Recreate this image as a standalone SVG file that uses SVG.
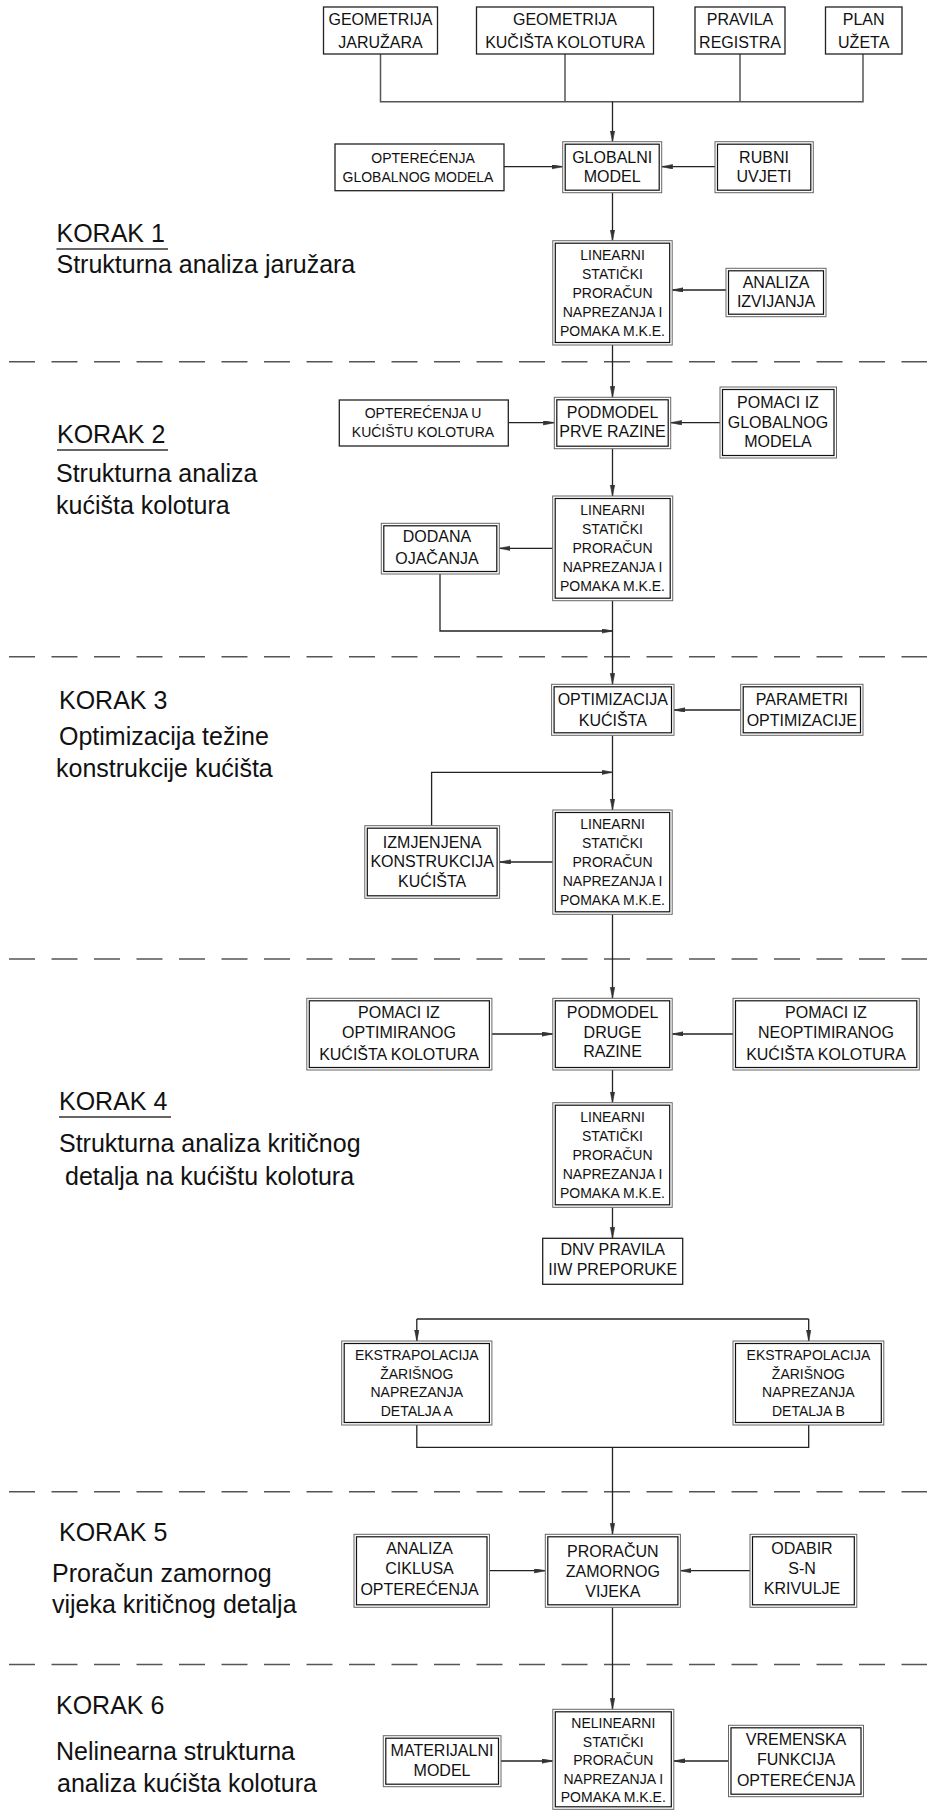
<svg xmlns="http://www.w3.org/2000/svg" width="927" height="1811" viewBox="0 0 927 1811">
<style>
.s{fill:#fff;stroke:#222;stroke-width:1.3}
.o{fill:#fff;stroke:#666;stroke-width:1}
.i{fill:none;stroke:#111;stroke-width:1.2}
text{font-family:"Liberation Sans",Arial,sans-serif;fill:#111}
.t14{font-size:14px;text-anchor:middle}
.t16{font-size:16px;text-anchor:middle}
.k{font-size:25px}
.c{stroke:#222;stroke-width:1.3;fill:none}
.g{stroke:#555;stroke-width:1.5;fill:none}
.d{stroke:#555;stroke-width:1.5;stroke-dasharray:26 16.5;fill:none}
.u{stroke:#333;stroke-width:1.3}
</style>
<defs>
<marker id="a" markerUnits="userSpaceOnUse" markerWidth="12" markerHeight="6" refX="11" refY="2.2" orient="auto">
<path d="M0,0 L11,2.2 L0,4.4 z" fill="#333" stroke="#333" stroke-width="0.6"/>
</marker>
</defs>

<g id="separators">
<line class="d" x1="9" y1="361.7" x2="927" y2="361.7"/>
<line class="d" x1="9" y1="656.7" x2="927" y2="656.7"/>
<line class="d" x1="9" y1="959" x2="927" y2="959"/>
<line class="d" x1="9" y1="1491.7" x2="927" y2="1491.7"/>
<line class="d" x1="9" y1="1664.5" x2="927" y2="1664.5"/>
</g>

<g id="steps">
<text class="k" x="56.5" y="242">KORAK 1</text>
<line class="u" x1="56.5" y1="249" x2="168" y2="249"/>
<text class="k" x="56.5" y="273">Strukturna analiza jaružara</text>
<text class="k" x="57" y="443">KORAK 2</text>
<line class="u" x1="57" y1="450" x2="168" y2="450"/>
<text class="k" x="56" y="482">Strukturna analiza</text>
<text class="k" x="56" y="514">kućišta kolotura</text>
<text class="k" x="59" y="709">KORAK 3</text>
<text class="k" x="59" y="745">Optimizacija težine</text>
<text class="k" x="56" y="777">konstrukcije kućišta</text>
<text class="k" x="59" y="1110">KORAK 4</text>
<line class="u" x1="59" y1="1117" x2="171" y2="1117"/>
<text class="k" x="59" y="1152">Strukturna analiza kritičnog</text>
<text class="k" x="65" y="1185">detalja na kućištu kolotura</text>
<text class="k" x="59" y="1541">KORAK 5</text>
<text class="k" x="52" y="1582">Proračun zamornog</text>
<text class="k" x="52" y="1613">vijeka kritičnog detalja</text>
<text class="k" x="56" y="1714">KORAK 6</text>
<text class="k" x="56" y="1760">Nelinearna strukturna</text>
<text class="k" x="57" y="1792">analiza kućišta kolotura</text>
</g>

<g id="connectors">
<polyline class="g" points="380.5,54 380.5,101.7 863,101.7 863,54"/>
<line class="g" x1="565" y1="54" x2="565" y2="101.7"/>
<line class="g" x1="740" y1="54" x2="740" y2="101.7"/>
<line class="c" x1="612.5" y1="101.7" x2="612.5" y2="141.7" marker-end="url(#a)"/>
<line class="c" x1="504" y1="166.7" x2="562.7" y2="166.7" marker-end="url(#a)"/>
<line class="c" x1="715" y1="166.7" x2="661.7" y2="166.7" marker-end="url(#a)"/>
<line class="c" x1="612.5" y1="192.7" x2="612.5" y2="240.7" marker-end="url(#a)"/>
<line class="c" x1="726" y1="290" x2="672.2" y2="290" marker-end="url(#a)"/>
<line class="c" x1="612.5" y1="345" x2="612.5" y2="397.3" marker-end="url(#a)"/>
<line class="c" x1="508.3" y1="422.7" x2="554.3" y2="422.7" marker-end="url(#a)"/>
<line class="c" x1="720" y1="422.7" x2="670.7" y2="422.7" marker-end="url(#a)"/>
<line class="c" x1="612.5" y1="448.7" x2="612.5" y2="496" marker-end="url(#a)"/>
<line class="c" x1="552.7" y1="548.3" x2="499.3" y2="548.3" marker-end="url(#a)"/>
<polyline class="c" points="440,574 440,631 612.5,631" marker-end="url(#a)"/>
<line class="c" x1="612.5" y1="600.7" x2="612.5" y2="684.3" marker-end="url(#a)"/>
<line class="c" x1="740.7" y1="710" x2="674" y2="710" marker-end="url(#a)" stroke-width="1.8"/>
<line class="c" x1="612.5" y1="735.3" x2="612.5" y2="810" marker-end="url(#a)"/>
<polyline class="c" points="431.6,825.7 431.6,772.3 612.5,772.3" marker-end="url(#a)"/>
<line class="c" x1="552.8" y1="862" x2="499.6" y2="862" marker-end="url(#a)" stroke-width="1.8"/>
<line class="c" x1="612.5" y1="914.3" x2="612.5" y2="998.3" marker-end="url(#a)"/>
<line class="c" x1="491.9" y1="1034" x2="552.8" y2="1034" marker-end="url(#a)"/>
<line class="c" x1="733" y1="1034" x2="672.2" y2="1034" marker-end="url(#a)"/>
<line class="c" x1="612.5" y1="1070" x2="612.5" y2="1102.7" marker-end="url(#a)"/>
<line class="c" x1="612.5" y1="1207.3" x2="612.5" y2="1238.3" marker-end="url(#a)"/>
<line class="c" x1="416.8" y1="1319" x2="808.7" y2="1319"/>
<line class="c" x1="416.8" y1="1319" x2="416.8" y2="1341" marker-end="url(#a)"/>
<line class="c" x1="808.7" y1="1319" x2="808.7" y2="1341" marker-end="url(#a)"/>
<polyline class="c" points="416.8,1425 416.8,1447.3 808.7,1447.3 808.7,1425"/>
<line class="c" x1="612.5" y1="1447.3" x2="612.5" y2="1534.3" marker-end="url(#a)"/>
<line class="c" x1="489.5" y1="1570.7" x2="545.3" y2="1570.7" marker-end="url(#a)"/>
<line class="c" x1="750" y1="1570.7" x2="680.4" y2="1570.7" marker-end="url(#a)"/>
<line class="c" x1="612.5" y1="1607.3" x2="612.5" y2="1709.3" marker-end="url(#a)"/>
<line class="c" x1="501" y1="1761" x2="552.8" y2="1761" marker-end="url(#a)"/>
<line class="c" x1="728.5" y1="1761" x2="674" y2="1761" marker-end="url(#a)"/>
</g>

<g id="n1"><rect class="s" x="323.5" y="7" width="114" height="47"/>
<text class="t16" x="380.5" y="25">GEOMETRIJA</text><text class="t16" x="380.5" y="47.5">JARUŽARA</text></g>
<g id="n2"><rect class="s" x="476.5" y="7" width="177" height="47"/>
<text class="t16" x="565" y="25">GEOMETRIJA</text><text class="t16" x="565" y="47.5">KUČIŠTA KOLOTURA</text></g>
<g id="n3"><rect class="s" x="695" y="7" width="90" height="47"/>
<text class="t16" x="740" y="25">PRAVILA</text><text class="t16" x="740" y="47.5">REGISTRA</text></g>
<g id="n4"><rect class="s" x="825.5" y="7" width="76.5" height="47"/>
<text class="t16" x="863.7" y="25">PLAN</text><text class="t16" x="863.7" y="47.5">UŽETA</text></g>

<g id="n5"><rect class="s" x="335" y="144" width="169" height="46.7"/>
<text class="t14" x="423" y="163.3">OPTEREĆENJA</text><text class="t14" x="418" y="181.7">GLOBALNOG MODELA</text></g>
<g id="n6"><rect class="o" x="562.7" y="141.7" width="99" height="51"/><rect class="i" x="565.2" y="144.2" width="94" height="46"/>
<text class="t16" x="612.2" y="163.3">GLOBALNI</text><text class="t16" x="612.2" y="181.7">MODEL</text></g>
<g id="n7"><rect class="o" x="715" y="141.7" width="98.3" height="51"/><rect class="i" x="717.5" y="144.2" width="93.3" height="46"/>
<text class="t16" x="764" y="163">RUBNI</text><text class="t16" x="764" y="182">UVJETI</text></g>

<g id="n8"><rect class="o" x="552.8" y="240.7" width="119.4" height="104.3"/><rect class="i" x="555.3" y="243.2" width="114.4" height="99.3"/>
<text class="t14" x="612.5" y="260">LINEARNI</text><text class="t14" x="612.5" y="279">STATIČKI</text><text class="t14" x="612.5" y="298">PRORAČUN</text><text class="t14" x="612.5" y="317">NAPREZANJA I</text><text class="t14" x="612.5" y="336">POMAKA M.K.E.</text></g>
<g id="n9"><rect class="o" x="726" y="268.3" width="100" height="48.4"/><rect class="i" x="728.5" y="270.8" width="95" height="43.4"/>
<text class="t16" x="776" y="288">ANALIZA</text><text class="t16" x="776" y="307">IZVIJANJA</text></g>

<g id="n10"><rect class="s" x="339.3" y="400" width="169" height="46"/>
<text class="t14" x="423" y="417.7">OPTEREĆENJA U</text><text class="t14" x="423" y="437.3">KUĆIŠTU KOLOTURA</text></g>
<g id="n11"><rect class="o" x="554.3" y="397.3" width="116.4" height="51.4"/><rect class="i" x="556.8" y="399.8" width="111.4" height="46.4"/>
<text class="t16" x="612.5" y="418.3">PODMODEL</text><text class="t16" x="612.5" y="437.3">PRVE RAZINE</text></g>
<g id="n12"><rect class="o" x="720" y="387" width="116.5" height="71"/><rect class="i" x="722.5" y="389.5" width="111.5" height="66"/>
<text class="t16" x="778" y="408">POMACI IZ</text><text class="t16" x="778" y="427.5">GLOBALNOG</text><text class="t16" x="778" y="447">MODELA</text></g>

<g id="n13"><rect class="o" x="552.7" y="496" width="120" height="104.7"/><rect class="i" x="555.2" y="498.5" width="115" height="99.7"/>
<text class="t14" x="612.5" y="515">LINEARNI</text><text class="t14" x="612.5" y="534">STATIČKI</text><text class="t14" x="612.5" y="553">PRORAČUN</text><text class="t14" x="612.5" y="572">NAPREZANJA I</text><text class="t14" x="612.5" y="591">POMAKA M.K.E.</text></g>
<g id="n14"><rect class="o" x="381.3" y="523.3" width="118" height="50.7"/><rect class="i" x="383.8" y="525.8" width="113" height="45.7"/>
<text class="t16" x="437" y="542">DODANA</text><text class="t16" x="437" y="564">OJAČANJA</text></g>

<g id="n15"><rect class="o" x="551.6" y="684.3" width="122.4" height="51"/><rect class="i" x="554.1" y="686.8" width="117.4" height="46"/>
<text class="t16" x="612.8" y="705">OPTIMIZACIJA</text><text class="t16" x="612.8" y="726">KUĆIŠTA</text></g>
<g id="n16"><rect class="o" x="740.7" y="684.3" width="122.3" height="51"/><rect class="i" x="743.2" y="686.8" width="117.3" height="46"/>
<text class="t16" x="801.8" y="705">PARAMETRI</text><text class="t16" x="801.8" y="726">OPTIMIZACIJE</text></g>

<g id="n17"><rect class="o" x="552.8" y="810" width="119.4" height="104.3"/><rect class="i" x="555.3" y="812.5" width="114.4" height="99.3"/>
<text class="t14" x="612.5" y="829">LINEARNI</text><text class="t14" x="612.5" y="848">STATIČKI</text><text class="t14" x="612.5" y="867">PRORAČUN</text><text class="t14" x="612.5" y="886">NAPREZANJA I</text><text class="t14" x="612.5" y="905">POMAKA M.K.E.</text></g>
<g id="n18"><rect class="o" x="364.8" y="825.7" width="134.8" height="72.6"/><rect class="i" x="367.3" y="828.2" width="129.8" height="67.6"/>
<text class="t16" x="432.2" y="847.5">IZMJENJENA</text><text class="t16" x="432.2" y="867">KONSTRUKCIJA</text><text class="t16" x="432.2" y="886.5">KUĆIŠTA</text></g>

<g id="n19"><rect class="o" x="306.8" y="998.3" width="185.1" height="71.7"/><rect class="i" x="309.3" y="1000.8" width="180.1" height="66.7"/>
<text class="t16" x="399" y="1018">POMACI IZ</text><text class="t16" x="399" y="1038">OPTIMIRANOG</text><text class="t16" x="399" y="1060">KUĆIŠTA KOLOTURA</text></g>
<g id="n20"><rect class="o" x="552.8" y="998.3" width="119.4" height="71.7"/><rect class="i" x="555.3" y="1000.8" width="114.4" height="66.7"/>
<text class="t16" x="612.5" y="1018">PODMODEL</text><text class="t16" x="612.5" y="1037.5">DRUGE</text><text class="t16" x="612.5" y="1057">RAZINE</text></g>
<g id="n21"><rect class="o" x="733" y="998.3" width="186.3" height="71.7"/><rect class="i" x="735.5" y="1000.8" width="181.3" height="66.7"/>
<text class="t16" x="826" y="1018">POMACI IZ</text><text class="t16" x="826" y="1038">NEOPTIMIRANOG</text><text class="t16" x="826" y="1060">KUĆIŠTA KOLOTURA</text></g>

<g id="n22"><rect class="o" x="552.8" y="1102.7" width="119.4" height="104.6"/><rect class="i" x="555.3" y="1105.2" width="114.4" height="99.6"/>
<text class="t14" x="612.5" y="1122">LINEARNI</text><text class="t14" x="612.5" y="1141">STATIČKI</text><text class="t14" x="612.5" y="1160">PRORAČUN</text><text class="t14" x="612.5" y="1179">NAPREZANJA I</text><text class="t14" x="612.5" y="1198">POMAKA M.K.E.</text></g>
<g id="n23"><rect class="s" x="542.7" y="1238.3" width="140" height="46"/>
<text class="t16" x="612.7" y="1255">DNV PRAVILA</text><text class="t16" x="612.7" y="1274.5">IIW PREPORUKE</text></g>

<g id="n24"><rect class="o" x="341.7" y="1341" width="150.2" height="84"/><rect class="i" x="344.2" y="1343.5" width="145.2" height="79"/>
<text class="t14" x="416.8" y="1360">EKSTRAPOLACIJA</text><text class="t14" x="416.8" y="1378.5">ŽARIŠNOG</text><text class="t14" x="416.8" y="1397">NAPREZANJA</text><text class="t14" x="416.8" y="1415.5">DETALJA A</text></g>
<g id="n25"><rect class="o" x="733" y="1341" width="150.8" height="84"/><rect class="i" x="735.5" y="1343.5" width="145.8" height="79"/>
<text class="t14" x="808.4" y="1360">EKSTRAPOLACIJA</text><text class="t14" x="808.4" y="1378.5">ŽARIŠNOG</text><text class="t14" x="808.4" y="1397">NAPREZANJA</text><text class="t14" x="808.4" y="1415.5">DETALJA B</text></g>

<g id="n26"><rect class="o" x="354" y="1534.3" width="135.5" height="73"/><rect class="i" x="356.5" y="1536.8" width="130.5" height="68"/>
<text class="t16" x="419.5" y="1554">ANALIZA</text><text class="t16" x="419.5" y="1574">CIKLUSA</text><text class="t16" x="419.5" y="1595">OPTEREĆENJA</text></g>
<g id="n27"><rect class="o" x="545.3" y="1534.3" width="135.1" height="73"/><rect class="i" x="547.8" y="1536.8" width="130.1" height="68"/>
<text class="t16" x="612.8" y="1557">PRORAČUN</text><text class="t16" x="612.8" y="1577">ZAMORNOG</text><text class="t16" x="612.8" y="1597">VIJEKA</text></g>
<g id="n28"><rect class="o" x="750" y="1534.3" width="106.8" height="73"/><rect class="i" x="752.5" y="1536.8" width="101.8" height="68"/>
<text class="t16" x="802" y="1554">ODABIR</text><text class="t16" x="802" y="1574">S-N</text><text class="t16" x="802" y="1593.5">KRIVULJE</text></g>

<g id="n29"><rect class="o" x="552.8" y="1709.3" width="121" height="100"/><rect class="i" x="555.3" y="1711.8" width="116" height="95"/>
<text class="t14" x="613.3" y="1728">NELINEARNI</text><text class="t14" x="613.3" y="1746.5">STATIČKI</text><text class="t14" x="613.3" y="1765">PRORAČUN</text><text class="t14" x="613.3" y="1783.5">NAPREZANJA I</text><text class="t14" x="613.3" y="1802">POMAKA M.K.E.</text></g>
<g id="n30"><rect class="o" x="383.3" y="1735.7" width="117.7" height="51"/><rect class="i" x="385.8" y="1738.2" width="112.7" height="46"/>
<text class="t16" x="442" y="1756">MATERIJALNI</text><text class="t16" x="442" y="1775.5">MODEL</text></g>
<g id="n31"><rect class="o" x="728.5" y="1725.3" width="135" height="71.4"/><rect class="i" x="731" y="1727.8" width="130" height="66.4"/>
<text class="t16" x="796" y="1745">VREMENSKA</text><text class="t16" x="796" y="1765">FUNKCIJA</text><text class="t16" x="796" y="1786">OPTEREĆENJA</text></g>
</svg>
